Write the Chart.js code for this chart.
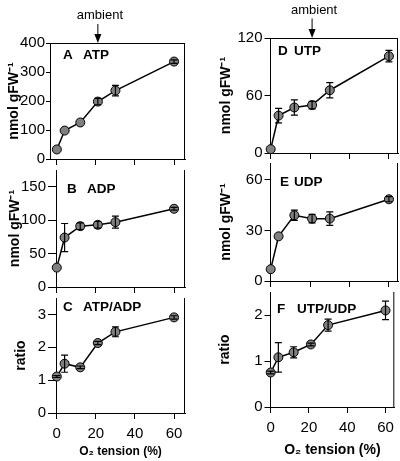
<!DOCTYPE html>
<html>
<head>
<meta charset="utf-8">
<script src="https://cdn.jsdelivr.net/npm/chart.js@4.4.1/dist/chart.umd.min.js"></script>
<style>
  html, body { margin: 0; padding: 0; background: #fff; }
  #wrap { position: relative; width: 400px; height: 461px; overflow: hidden; }
  #wrap canvas { position: absolute; left: 0; top: 0; }
</style>
</head>
<body>
<div id="wrap"></div>
<script>
// O2 tension (%) for every panel
const O2_TENSION = [0, 4, 12, 21, 30, 60];
const X_TICKS = [0, 20, 40, 60];
const AMBIENT_O2 = 21;

// nucleotide levels (nmol gFW-1) and ratios, with error bars
const ATP = [33, 98, 126, 198, 236, 336];
const ATP_ERR = [0, 0, 0, 11, 18, 6];
const ADP = [29, 74, 91, 93, 97, 117];
const ADP_ERR = [0, 21, 5, 5, 9, 2];
const ATP_ADP = [1.11, 1.5, 1.39, 2.13, 2.47, 2.91];
const ATP_ADP_ERR = [0.03, 0.26, 0.04, 0.05, 0.15, 0.05];
const UTP = [4, 39, 47.5, 50, 65.5, 101];
const UTP_ERR = [0, 7.5, 8, 4, 8, 6];
const UDP = [7, 26.5, 39, 37, 37, 48.5];
const UDP_ERR = [0, 0, 3, 2.5, 4, 1.5];
const UTP_UDP = [0.75, 1.08, 1.19, 1.36, 1.78, 2.1];
const UTP_UDP_ERR = [0.03, 0.32, 0.12, 0.03, 0.13, 0.2];

// y tick labels
const Y_TICKS_ATP = [0, 100, 200, 300, 400];
const Y_TICKS_ADP = [0, 50, 100, 150];
const Y_TICKS_ATP_ADP = [0, 1, 2, 3];
const Y_TICKS_UTP = [0, 60, 120];
const Y_TICKS_UDP = [0, 30, 60];
const Y_TICKS_UTP_UDP = [0, 1, 2];

const NMOL = 'nmol gFW\u207B\u00B9';
const RATIO = 'ratio';
const X_TITLE = 'O\u2082 tension (%)';

const FONT = '"Liberation Sans", Arial, Helvetica, sans-serif';
Chart.defaults.font.family = FONT;
Chart.defaults.color = '#000';

// layout of each panel: box = [left, right, top, bottom] of the plot area
const panels = [
  { letter: 'A', name: 'ATP', values: ATP, errors: ATP_ERR, yTicks: Y_TICKS_ATP, yMax: 400, yTitle: NMOL,
    box: [50, 185, 43, 159], titleX: 14, xMin: -3.5, xMax: 65.6, tickLen: 4, tickPad: 1,
    lbl: [63, 83, 55], closedTop: true, ambientY: 19 },
  { letter: 'B', name: 'ADP', values: ADP, errors: ADP_ERR, yTicks: Y_TICKS_ADP, yMax: 175, yTitle: NMOL,
    box: [56, 185, 170, 287], titleX: 15, xMin: -0.4, xMax: 65.6, tickLen: 8, tickPad: 2,
    lbl: [67, 87, 189] },
  { letter: 'C', name: 'ATP/ADP', values: ATP_ADP, errors: ATP_ADP_ERR, yTicks: Y_TICKS_ATP_ADP, yMax: 3.5, yTitle: RATIO,
    box: [56, 185, 298, 413], titleX: 21.5, xMin: -0.4, xMax: 65.6, tickLen: 8, tickPad: 2,
    lbl: [63, 83, 307.5], xLabels: true, xTitleSize: 12, xAxisH: 46 },
  { letter: 'D', name: 'UTP', values: UTP, errors: UTP_ERR, yTicks: Y_TICKS_UTP, yMax: 120, yTitle: NMOL,
    box: [270.5, 398, 38, 153], titleX: 226, xMin: -0.1, xMax: 64.6, tickLen: 6, tickPad: 2,
    lbl: [278, 294, 51], closedTop: true, ambientY: 13.5 },
  { letter: 'E', name: 'UDP', values: UDP, errors: UDP_ERR, yTicks: Y_TICKS_UDP, yMax: 70, yTitle: NMOL,
    box: [270.5, 398, 163, 281], titleX: 226, xMin: -0.1, xMax: 64.6, tickLen: 6, tickPad: 2,
    lbl: [280, 294, 182.5] },
  { letter: 'F', name: 'UTP/UDP', values: UTP_UDP, errors: UTP_UDP_ERR, yTicks: Y_TICKS_UTP_UDP, yMax: 2.5, yTitle: RATIO,
    box: [270.5, 398, 292, 407], titleX: 225, xMin: -0.1, xMax: 64.6, tickLen: 6, tickPad: 2,
    lbl: [277, 297, 309], xLabels: true, xTitleSize: 14, xAxisH: 52 }
];

function decorPlugin(p) {
  return {
    id: 'decor' + p.letter,
    afterDatasetsDraw(chart) {
      const ctx = chart.ctx, xs = chart.scales.x, ys = chart.scales.y;
      ctx.save();
      ctx.strokeStyle = '#000';
      ctx.lineWidth = 1.2;
      p.errors.forEach(function(e, i) {
        if (!e) return;
        const x = xs.getPixelForValue(O2_TENSION[i]);
        const y1 = ys.getPixelForValue(p.values[i] + e);
        const y2 = ys.getPixelForValue(p.values[i] - e);
        ctx.beginPath();
        ctx.moveTo(x, y1); ctx.lineTo(x, y2);
        ctx.moveTo(x - 3.5, y1); ctx.lineTo(x + 3.5, y1);
        ctx.moveTo(x - 3.5, y2); ctx.lineTo(x + 3.5, y2);
        ctx.stroke();
      });
      ctx.restore();
    },
    afterDraw(chart) {
      const ctx = chart.ctx, a = chart.chartArea;
      ctx.save();
      ctx.strokeStyle = '#000';
      ctx.lineWidth = 1;
      // right border, and top border on the first row
      ctx.beginPath();
      ctx.moveTo(a.right - 0.5, a.top);
      ctx.lineTo(a.right - 0.5, a.bottom);
      if (p.closedTop) {
        ctx.moveTo(a.left, a.top + 0.5);
        ctx.lineTo(a.right, a.top + 0.5);
      }
      ctx.stroke();

      // panel letter and name
      ctx.fillStyle = '#000';
      ctx.font = 'bold 13.5px ' + FONT;
      ctx.textAlign = 'left';
      ctx.textBaseline = 'middle';
      ctx.fillText(p.letter, p.lbl[0], p.lbl[2]);
      ctx.fillText(p.name, p.lbl[1], p.lbl[2]);

      // "ambient" arrow
      if (p.ambientY) {
        const x = chart.scales.x.getPixelForValue(AMBIENT_O2);
        ctx.font = '13px ' + FONT;
        ctx.textAlign = 'center';
        ctx.textBaseline = 'alphabetic';
        ctx.fillText('ambient', x + 2, p.ambientY);
        ctx.beginPath();
        ctx.moveTo(x, p.ambientY + 5);
        ctx.lineTo(x, a.top - 8);
        ctx.stroke();
        ctx.beginPath();
        ctx.moveTo(x - 3.5, a.top - 9);
        ctx.lineTo(x + 3.5, a.top - 9);
        ctx.lineTo(x, a.top);
        ctx.closePath();
        ctx.fill();
      }
      ctx.restore();
    }
  };
}

function makePanel(p) {
  const wrap = document.getElementById('wrap');
  const canvas = document.createElement('canvas');
  canvas.width = 400;
  canvas.height = 461;
  wrap.appendChild(canvas);

  const l = p.box[0], r = p.box[1], t = p.box[2], b = p.box[3];
  const padL = p.titleX - 8.4;
  const xH = p.xLabels ? p.xAxisH : 8;

  new Chart(canvas, {
    type: 'scatter',
    data: {
      datasets: [{
        data: O2_TENSION.map(function(x, i) { return { x: x, y: p.values[i] }; }),
        showLine: true,
        borderColor: '#000',
        borderWidth: 1.5,
        pointRadius: 4.5,
        pointBackgroundColor: '#808080',
        pointBorderColor: '#000',
        pointBorderWidth: 1,
        clip: false
      }]
    },
    options: {
      responsive: false,
      animation: false,
      devicePixelRatio: 1,
      layout: { autoPadding: false, padding: { left: padL, right: 400 - r, top: t, bottom: 461 - b - xH } },
      plugins: { legend: { display: false }, tooltip: { enabled: false } },
      scales: {
        x: {
          type: 'linear',
          min: p.xMin,
          max: p.xMax,
          afterBuildTicks: function(s) { s.ticks = X_TICKS.map(function(v) { return { value: v }; }); },
          afterFit: function(s) { s.height = xH; },
          grid: { drawOnChartArea: false, drawTicks: true, tickLength: 6, color: '#000' },
          border: { display: true, color: '#000', width: 1 },
          ticks: { display: !!p.xLabels, font: { size: 15 }, padding: 6, maxRotation: 0 },
          title: { display: !!p.xLabels, text: X_TITLE, font: { size: p.xTitleSize || 12, weight: 'bold' }, padding: 0 }
        },
        y: {
          type: 'linear',
          min: 0,
          max: p.yMax,
          afterBuildTicks: function(s) { s.ticks = p.yTicks.map(function(v) { return { value: v }; }); },
          afterFit: function(s) { s.width = l - padL; },
          grid: { drawOnChartArea: false, drawTicks: true, tickLength: p.tickLen, color: '#000' },
          border: { display: true, color: '#000', width: 1 },
          ticks: { font: { size: 15 }, padding: p.tickPad },
          title: { display: true, text: p.yTitle, font: { size: 14, weight: 'bold' }, padding: 0 }
        }
      }
    },
    plugins: [decorPlugin(p)]
  });
}

panels.forEach(makePanel);
</script>
</body>
</html>
